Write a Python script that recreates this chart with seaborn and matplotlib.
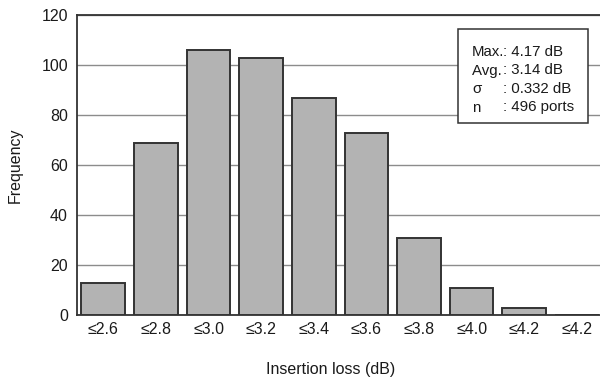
import matplotlib
matplotlib.use("Agg")
import matplotlib.pyplot as plt
import seaborn as sns
import pandas as pd
from matplotlib.patches import Rectangle
from matplotlib.ticker import FixedLocator

# ---- data ----
categories = ["≤2.6", "≤2.8", "≤3.0", "≤3.2", "≤3.4", "≤3.6", "≤3.8", "≤4.0", "≤4.2", ">4.2"]
tick_labels = ["≤2.6", "≤2.8", "≤3.0", "≤3.2", "≤3.4", "≤3.6", "≤3.8", "≤4.0", "≤4.2", "≤4.2"]
counts = [13, 69, 106, 103, 87, 73, 31, 11, 3, 0]
stat_names = ["Max.", "Avg. ", "σ", "n"]
stat_values = [": 4.17 dB", ": 3.14 dB", ": 0.332 dB", ": 496 ports"]
y_ticks = [0, 20, 40, 60, 80, 100, 120]

sns.set_style("white")
plt.rcParams["font.family"] = ["Liberation Sans", "DejaVu Sans"]
plt.rcParams["font.size"] = 11.5

W, H = 600, 380
fig = plt.figure(figsize=(6, 3.8), dpi=100)
L, R, T, B = 77, 600, 15, 315
ax = fig.add_axes([L / W, 1 - B / H, (R - L) / W, (B - T) / H])

df = pd.DataFrame({"cat": categories, "count": counts})
sns.barplot(data=df, x="cat", y="count", order=categories, color="#b3b3b3",
            saturation=1, edgecolor="#333333", linewidth=1.4, width=0.83, ax=ax, zorder=3)

ax.set_xlim(-0.5, 9.44)
ax.set_ylim(0, 120)
ax.set_yticks(y_ticks)
ax.set_xticks(range(len(categories)))
ax.set_xticklabels(tick_labels)
ax.xaxis.set_minor_locator(FixedLocator([i + 0.5 for i in range(-1, 9)]))
ax.tick_params(axis="x", which="major", length=0, pad=5, labelsize=11.5, colors="#1a1a1a")
ax.tick_params(axis="x", which="minor", length=5, direction="in", width=1, color="#333333")
ax.tick_params(axis="y", length=0, pad=6.5, labelsize=11.5, colors="#1a1a1a")

ax.grid(axis="y", color="#8c8c8c", linewidth=1, zorder=0)
ax.set_axisbelow(True)
for s in ["left", "bottom", "top"]:
    ax.spines[s].set_visible(True)
    ax.spines[s].set_color("#333333")
    ax.spines[s].set_linewidth(1.3)
ax.spines["right"].set_visible(False)

ax.set_xlabel("Insertion loss (dB)", fontsize=11.5, color="#1a1a1a")
ax.set_ylabel("Frequency", fontsize=11.5, color="#1a1a1a")
ax.xaxis.set_label_coords((331 - L) / (R - L), (B - 362) / (B - T))
ax.yaxis.set_label_coords((23 - L) / (R - L), 0.5)

# stats box
bx0, by0, bx1, by1 = 458, 29, 588, 123
fig.patches.append(Rectangle((bx0 / W, 1 - by1 / H), (bx1 - bx0) / W, (by1 - by0) / H,
                             transform=fig.transFigure, facecolor="white",
                             edgecolor="#333333", linewidth=1.1, zorder=5))
ys = [51.5, 70.5, 89, 107.5]
for name, val, y in zip(stat_names, stat_values, ys):
    fig.text(472 / W, 1 - y / H, name, ha="left", va="center", fontsize=10.8, color="#1a1a1a", zorder=6)
    fig.text(503 / W, 1 - y / H, val, ha="left", va="center", fontsize=10.8, color="#1a1a1a", zorder=6)

fig.savefig("out.png", dpi=100)
